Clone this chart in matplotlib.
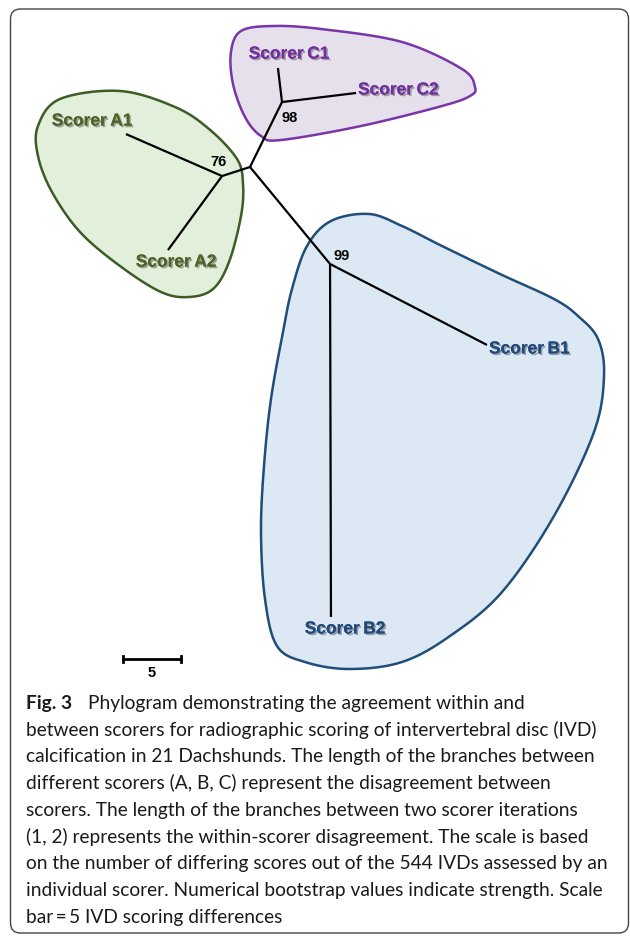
import numpy as np
import matplotlib
matplotlib.use("Agg")
import matplotlib.pyplot as plt
import matplotlib.patheffects as pe
from matplotlib.patches import Polygon, FancyBboxPatch

# Tree: node positions in branch-length units (root at origin)
node_names = ["root", "A", "A1", "A2", "C", "C1", "C2", "B", "B1", "B2"]
node_x = [0.0, -2.41, -10.69, -7.07, 2.76, 2.41, 9.14, 6.90, 20.43, 6.98]
node_y = [0.0, -0.78, 2.84, -7.16, 5.60, 8.53, 6.38, -8.36, -15.34, -38.79]
node_parent = [None, "root", "A", "A", "root", "C", "C", "root", "B", "B"]

tip_labels = ["Scorer A1", "Scorer A2", "Scorer C1", "Scorer C2", "Scorer B1", "Scorer B2"]
tip_nodes = ["A1", "A2", "C1", "C2", "B1", "B2"]
bootstrap_nodes = ["A", "C", "B"]
bootstrap_values = [76, 98, 99]
scale_length = 5

caption_lines = [
    "Phylogram demonstrating the agreement within and",
    "between scorers for radiographic scoring of intervertebral disc (IVD)",
    "calcification in 21 Dachshunds. The length of the branches between",
    "different scorers (A, B, C) represent the disagreement between",
    "scorers. The length of the branches between two scorer iterations",
    "(1, 2) represents the within-scorer disagreement. The scale is based",
    "on the number of differing scores out of the 544 IVDs assessed by an",
    "individual scorer. Numerical bootstrap values indicate strength. Scale",
    "bar\u2009=\u20095 IVD scoring differences",
]

W, H = 630, 937
PX = 11.6            # pixels per branch-length unit
OX, OY = 250, 168    # root position in pixels

def to_units(pts):
    a = np.array(pts, dtype=float)
    return np.column_stack([(a[:, 0] - OX) / PX, (OY - a[:, 1]) / PX])

def closed_spline(pts, n=30):
    p = np.asarray(pts)
    m = len(p)
    out = []
    t = np.linspace(0, 1, n, endpoint=False)[:, None]
    for i in range(m):
        p0, p1, p2, p3 = p[i - 1], p[i], p[(i + 1) % m], p[(i + 2) % m]
        out.append(0.5 * (2 * p1 + (-p0 + p2) * t + (2 * p0 - 5 * p1 + 4 * p2 - p3) * t ** 2
                          + (-p0 + 3 * p1 - 3 * p2 + p3) * t ** 3))
    return np.vstack(out)

# group outlines (layout, in pixels of the original figure)
green_outline = [(120, 92), (175, 108), (209, 130), (237, 160), (243, 185), (241, 217),
                 (229, 263), (213, 290), (189, 298), (161, 293), (120, 267), (80, 233),
                 (52, 193), (38, 157), (38, 127), (60, 100)]
purple_outline = [(241, 32), (273, 27), (321, 30), (402, 43), (462, 70), (475, 88),
                  (470, 97), (442, 107), (361, 127), (281, 141), (261, 137), (245, 118),
                  (233, 85), (231, 53)]
blue_outline = [(369, 215), (402, 227), (442, 247), (500, 275), (554, 300), (578, 317),
                (598, 340), (604, 377), (594, 433), (554, 517), (502, 593), (450, 637),
                (402, 663), (349, 670), (305, 663), (277, 647), (265, 600), (261, 533),
                (264, 467), (271, 400), (283, 333), (292, 290), (307, 247), (331, 222)]

groups = [
    (green_outline, "#e2efda", "#3d5c26"),
    (purple_outline, "#e6e0ec", "#7a35a8"),
    (blue_outline, "#dce9f5", "#1f4e79"),
]
label_colors = {"A": "#4f6228", "C": "#7030a0", "B": "#1f497d"}

fig = plt.figure(figsize=(W / 100, H / 100), dpi=100)
ax = fig.add_axes([0, 0, 1, 1])
ax.set_xlim(-OX / PX, (W - OX) / PX)
ax.set_ylim((OY - H) / PX, OY / PX)
ax.axis("off")

# frame
frame = FancyBboxPatch((10.5, 3), 618, 924, boxstyle="round,pad=0,rounding_size=10",
                       fill=False, lw=1.0, ec="#444444")
frame.set_transform(matplotlib.transforms.IdentityTransform())
fig.patches.append(frame)

for outline, fc, ec in groups:
    pts = closed_spline(to_units(outline))
    ax.add_patch(Polygon(pts, closed=True, fc=fc, ec=ec, lw=1.8, zorder=1))

pos = {n: (x, y) for n, x, y in zip(node_names, node_x, node_y)}
for n, par in zip(node_names, node_parent):
    if par is None:
        continue
    ax.plot([pos[par][0], pos[n][0]], [pos[par][1], pos[n][1]], color="black",
            lw=1.6, solid_capstyle="butt", zorder=3)

shadow = [pe.withSimplePatchShadow(offset=(1.2, -1.2), shadow_rgbFace="#555555", alpha=0.5),
          pe.Normal()]
# label offsets in pixels from the tip
tip_offsets = {"A1": (-34, 13, "center"), "A2": (8, -12, "center"),
               "C1": (11, 14, "center"), "C2": (2, 3, "left"),
               "B1": (2, -4, "left"), "B2": (14, -12, "center")}
for lab, n in zip(tip_labels, tip_nodes):
    dx, dy, ha = tip_offsets[n]
    ax.annotate(lab.replace(" ", "\u2009"), pos[n], xytext=(dx, dy), textcoords="offset pixels",
                ha=ha, va="center", fontsize=12.5, fontweight="bold",
                family="Liberation Sans", color=label_colors[n[0]],
                path_effects=shadow, zorder=4)

boot_offsets = {"A": (-4, 15), "C": (8, -15), "B": (12, 9)}
for n, v in zip(bootstrap_nodes, bootstrap_values):
    ax.annotate(str(v), pos[n], xytext=boot_offsets[n], textcoords="offset pixels",
                ha="center", va="center", fontsize=10.5, fontweight="bold",
                family="Liberation Sans", color="black", zorder=4)

# scale bar
sx, sy = (123 - OX) / PX, (OY - 660) / PX
ax.plot([sx, sx + scale_length], [sy, sy], color="black", lw=2, zorder=4)
for xx in (sx, sx + scale_length):
    ax.plot([xx, xx], [sy - 0.3, sy + 0.3], color="black", lw=2, zorder=4)
ax.annotate(str(scale_length), (sx + scale_length / 2, sy), xytext=(0, -13),
            textcoords="offset pixels", ha="center", va="center", fontsize=10.5,
            fontweight="bold", family="Liberation Sans")

# caption
cap_font = "Lato"
y0, dy = 703, 26.8
fig.text(26 / W, 1 - y0 / H, "Fig. 3", fontsize=13.8, fontweight="bold",
         family=cap_font, va="center", ha="left", color="#1a1a1a")
for i, line in enumerate(caption_lines):
    x = 88 if i == 0 else 26
    fig.text(x / W, 1 - (y0 + i * dy) / H, line, fontsize=13.8, family=cap_font,
             va="center", ha="left", color="#1a1a1a")

fig.savefig("out.png", dpi=100)
